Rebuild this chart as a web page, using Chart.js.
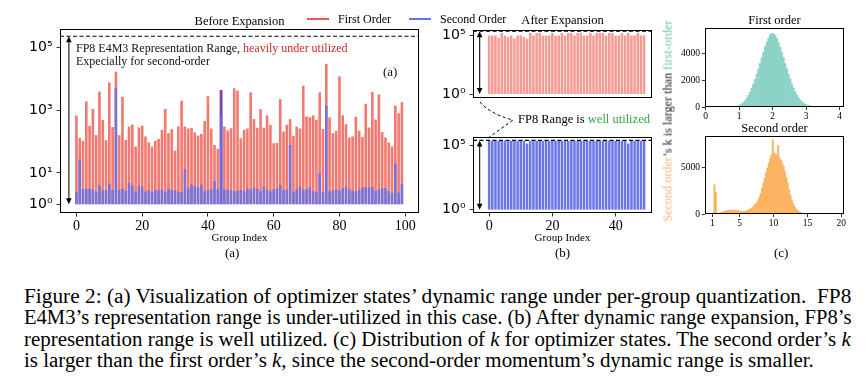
<!DOCTYPE html>
<html>
<head>
<meta charset="utf-8">
<script src="https://cdn.jsdelivr.net/npm/chart.js@4.4.1/dist/chart.umd.min.js"></script>
<style>
  body { margin: 0; background: #fff; width: 865px; height: 384px; position: relative; overflow: hidden;
         font-family: 'Liberation Serif', 'Times New Roman', serif; color: #000; }
  canvas { position: absolute; }
  .txt { position: absolute; white-space: nowrap; line-height: 1; }
  .legLine { position: absolute; height: 2px; }
  #sideLabel { position: absolute; left: 668px; top: 121px; font-size: 12.2px; white-space: nowrap;
               transform: translate(-50%, -50%) rotate(-90deg); color: #222; }
  #caption { position: absolute; left: 24px; top: 286px; width: 827px; font-size: 20px; line-height: 21.4px; }
  #caption div { white-space: nowrap; height: 21.4px; }
  #caption span.line { display: inline-block; transform-origin: 0 50%; }
</style>
</head>
<body>
<canvas id="chartA" width="430" height="250" style="left:0;top:0"></canvas>
<canvas id="chartB1" width="240" height="110" style="left:420px;top:0"></canvas>
<canvas id="chartB2" width="240" height="150" style="left:420px;top:100px"></canvas>
<canvas id="chartC1" width="205" height="125" style="left:660px;top:0"></canvas>
<canvas id="chartC2" width="205" height="125" style="left:660px;top:110px"></canvas>

<!-- shared legend of (a) and (b) -->
<div class="legLine" style="left:307px;top:18px;width:22px;background:#ec584e"></div>
<div class="txt" style="left:338px;top:13px;font-size:12px">First Order</div>
<div class="legLine" style="left:409px;top:18px;width:22px;background:#6473eb"></div>
<div class="txt" style="left:440px;top:13px;font-size:12px">Second Order</div>

<div class="txt" style="left:225px;top:246px;font-size:13px">(a)</div>
<div class="txt" style="left:555px;top:246px;font-size:13px">(b)</div>
<div class="txt" style="left:774px;top:246px;font-size:13px">(c)</div>

<div id="sideLabel"><span style="color:#f6b176">Second order</span>’s k is larger than <span style="color:#72c0b4">first-order</span></div>

<div id="caption">
  <div><span class="line">Figure 2: (a) Visualization of optimizer states’ dynamic range under per-group quantization.&nbsp; FP8</span></div>
  <div><span class="line">E4M3’s representation range is under-utilized in this case. (b) After dynamic range expansion, FP8’s</span></div>
  <div><span class="line">representation range is well utilized. (c) Distribution of <i>k</i> for optimizer states. The second order’s <i>k</i></span></div>
  <div><span class="line last">is larger than the first order’s <i>k</i>, since the second-order momentum’s dynamic range is smaller.</span></div>
</div>

<script>
// ---- data -----------------------------------------------------------------
// (a) max/min ratio per group, before expansion (group 0..99)
const FIRST_ORDER = [
  680, 130, 105, 1900, 320, 1100, 160, 3900, 490, 110,
  7700, 290, 17000, 160, 2700, 112, 300, 350, 69, 280,
  320, 145, 95, 69, 107, 120, 235, 1100, 185, 250,
  51, 300, 2000, 300, 260, 270, 195, 155, 175, 450,
  2800, 260, 78, 58, 4400, 300, 225, 265, 5000, 4200,
  127, 235, 260, 3700, 520, 275, 1080, 275, 680, 340,
  88, 90, 2250, 210, 340, 520, 150, 300, 260, 6000,
  630, 600, 680, 490, 3700, 250, 30000, 590, 185, 220,
  12000, 690, 355, 135, 145, 620, 220, 140, 1600, 280,
  3800, 500, 3200, 200, 135, 93, 70, 1400, 800, 1800
];
const SECOND_ORDER = [
  2.5, 27, 3.1, 3.1, 3.1, 2.9, 2.5, 4, 2.8, 2.8,
  4.6, 2.8, 5100, 2.9, 3.1, 2.7, 4.8, 4, 2.5, 3.8,
  3.6, 2.5, 2.8, 2.5, 2.8, 2.8, 2.9, 2.5, 3.1, 2.9,
  2.8, 2.5, 2.4, 13, 3.2, 4.3, 3.8, 3.5, 4.2, 2.6,
  2.8, 3.0, 5.5, 3.0, 660, 3.0, 2.9, 2.8, 2.6, 2.7,
  2.9, 2.6, 3.2, 2.9, 3.4, 3.1, 2.6, 3.7, 2.9, 2.6,
  3.0, 3.2, 4.2, 2.8, 3.0, 78, 2.5, 3.0, 3.6, 2.8,
  3.0, 3.5, 2.6, 2.4, 10, 2.5, 1380, 2.6, 2.8, 3.0,
  2.7, 3.2, 3.6, 3.0, 2.7, 2.6, 2.9, 3.4, 3.4, 3.5,
  3.5, 2.6, 3.0, 3.2, 3.3, 2.6, 2.3, 20, 2.4, 4.5
];
// overlapping group drawn in purple
const OVERLAP_GROUP = [44];
const OVERLAP_VALUE = [4400];

// (b) after expansion (group 0..49)
const FIRST_ORDER_EXP = [
  1e5, 1e5, 1e5, 63000, 160000, 1e5, 75000, 1e5, 56000, 1e5,
  1e5, 75000, 50000, 160000, 1e5, 160000, 160000, 1e5, 1e5, 1e5,
  160000, 1e5, 1e5, 160000, 1e5, 160000, 160000, 1e5, 160000, 160000,
  1e5, 1e5, 160000, 1e5, 160000, 160000, 160000, 1e5, 160000, 160000,
  1e5, 1e5, 160000, 1e5, 160000, 1e5, 1e5, 160000, 1e5, 1e5
];
const SECOND_ORDER_EXP = [
  214000, 214000, 214000, 214000, 214000, 214000, 214000, 214000, 214000, 214000,
  214000, 214000, 130000, 214000, 214000, 214000, 214000, 214000, 214000, 214000,
  214000, 214000, 214000, 214000, 214000, 214000, 214000, 214000, 214000, 214000,
  214000, 214000, 214000, 214000, 214000, 214000, 214000, 214000, 214000, 214000,
  214000, 214000, 214000, 214000, 130000, 214000, 214000, 214000, 214000, 214000
];

const FP8_RANGE = 229376;          // 448 / 2^-9
const BAR_BASE = 1;
const LOG_TICKS_A = [1, 10, 1000, 100000];
const LOG_TICKS_B = [1, 100000];
const X_TICKS_A = [0, 20, 40, 60, 80, 100];
const X_TICKS_B = [0, 20, 40];

// (c) histograms of k
const K1_BIN_START = 0.9, K1_BIN_WIDTH = 0.05;
const K1_COUNTS = [
  30, 90, 150, 230, 330, 460, 640, 860, 1110, 1400,
  1720, 2060, 2440, 2840, 3250, 3680, 4100, 4500, 4850, 5150,
  5380, 5500, 5480, 5350, 5120, 4820, 4460, 4080, 3680, 3260,
  2850, 2450, 2080, 1730, 1410, 1130, 890, 690, 520, 390,
  290, 210, 150, 105, 70, 45, 25
];
const K2_BIN_START = 1.0, K2_BIN_WIDTH = 0.2;
const K2_COUNTS = [
  150, 3100, 2300, 80, 60, 100, 160, 210, 260, 300,
  340, 380, 400, 420, 410, 420, 400, 410, 380, 340,
  300, 270, 260, 270, 300, 350, 420, 500, 600, 720,
  860, 1020, 1200, 1420, 1750, 2200, 2700, 3250, 3800, 4400,
  4900, 5400, 5900, 6300, 7900, 6500, 6400, 6300, 7300, 6000,
  5700, 5400, 5100, 4500, 3900, 3300, 2600, 2000, 1500, 1100,
  800, 560, 400, 280, 200, 140, 90, 60, 40, 28,
  18, 14, 10, 8, 6, 5, 4, 3
];
const K1_X_TICKS = [0, 1, 2, 3, 4];
const K1_Y_TICKS = [0, 2000, 4000];
const K2_X_TICKS = [1, 5, 10, 15, 20];
const K2_Y_TICKS = [0, 5000];

// ---- styling --------------------------------------------------------------
const SERIF = "'Liberation Serif', 'Times New Roman', serif";
const RED = 'rgba(236, 88, 78, 0.8)';
const RED_LIGHT = 'rgba(236, 88, 78, 0.6)';
const BLUE = 'rgba(100, 115, 235, 0.85)';
const BLUE_DARK = 'rgba(85, 100, 230, 0.88)';
const PURPLE = 'rgba(100, 64, 190, 0.9)';
const TEAL = '#8dd3c7';
const ORANGE = '#fdb462';

Chart.defaults.font.family = SERIF;
Chart.defaults.color = '#000';

const SUP = { '0': '⁰', '1': '¹', '2': '²', '3': '³', '4': '⁴', '5': '⁵' };
const powerLabel = v => '10' + SUP[Math.round(Math.log10(v))];

const fixedTicks = list => (scale => { scale.ticks = list.map(v => ({ value: v })); });

function tickGrid(len) {
  return { display: true, drawOnChartArea: false, drawTicks: true, tickLength: len,
           color: '#000', lineWidth: 0.8, offset: false };
}

// black box round the plot area
const framePlugin = {
  id: 'frame',
  afterDraw(chart) {
    const { ctx, chartArea: a } = chart;
    ctx.save();
    ctx.strokeStyle = '#000';
    ctx.lineWidth = 1;
    ctx.strokeRect(Math.round(a.left) + 0.5, Math.round(a.top) + 0.5,
                   Math.round(a.right - a.left) - 1, Math.round(a.bottom - a.top) - 1);
    ctx.restore();
  }
};

// dashed FP8 limit and the double arrow of the representable range
const rangePlugin = {
  id: 'fp8Range',
  afterDatasetsDraw(chart, args, opts) {
    const { ctx, chartArea: a, scales: { x, y } } = chart;
    const yTop = y.getPixelForValue(opts.top);
    const yLow = y.getPixelForValue(opts.low);
    const xa = x.getPixelForValue(opts.arrowX);
    ctx.save();
    ctx.strokeStyle = '#000';
    ctx.lineWidth = 1.1;
    ctx.setLineDash([4, 2.5]);
    ctx.beginPath();
    ctx.moveTo(a.left, yTop);
    ctx.lineTo(a.right, yTop);
    ctx.stroke();
    ctx.setLineDash([]);
    ctx.strokeStyle = '#222';
    ctx.lineWidth = 1.2;
    ctx.beginPath();
    ctx.moveTo(xa, yLow - 4);
    ctx.lineTo(xa, yTop + 4);
    ctx.stroke();
    ctx.fillStyle = '#000';
    ctx.beginPath();
    ctx.moveTo(xa, yTop); ctx.lineTo(xa - 2.8, yTop + 6); ctx.lineTo(xa + 2.8, yTop + 6);
    ctx.fill();
    ctx.beginPath();
    ctx.moveTo(xa, yLow); ctx.lineTo(xa - 2.8, yLow - 6); ctx.lineTo(xa + 2.8, yLow - 6);
    ctx.fill();
    ctx.restore();
  }
};

// text inside panel (a)
const noteAPlugin = {
  id: 'noteA',
  afterDraw(chart) {
    const { ctx, chartArea: a } = chart;
    ctx.save();
    ctx.font = "12px " + SERIF;
    ctx.textBaseline = 'middle';
    const head = 'FP8 E4M3 Representation Range, ';
    const x0 = a.left + 16;
    ctx.fillStyle = '#111';
    ctx.fillText(head, x0, a.top + 20);
    ctx.fillStyle = '#c8282b';
    ctx.fillText('heavily under utilized', x0 + ctx.measureText(head).width, a.top + 20);
    ctx.fillStyle = '#111';
    ctx.fillText('Expecially for second-order', x0, a.top + 32.5);
    ctx.font = "13px " + SERIF;
    ctx.fillText('(a)', a.right - 36, a.top + 44);
    ctx.restore();
  }
};

// dashed connector between both (b) panels
const noteBPlugin = {
  id: 'noteB',
  afterDraw(chart) {
    const { ctx } = chart;
    const vx = 93, vy = 20;
    ctx.save();
    ctx.strokeStyle = '#000';
    ctx.lineWidth = 1;
    ctx.setLineDash([3, 2.5]);
    ctx.beginPath();
    ctx.moveTo(60, 2);
    ctx.quadraticCurveTo(70, 14, vx, vy);
    ctx.lineTo(68, 38);
    ctx.stroke();
    ctx.restore();
    ctx.save();
    ctx.font = "12.5px " + SERIF;
    ctx.textBaseline = 'middle';
    const head = 'FP8 Range is ';
    ctx.fillStyle = '#000';
    ctx.fillText(head, 98, vy);
    ctx.fillStyle = '#35a845';
    ctx.fillText('well utilized', 98 + ctx.measureText(head).width, vy);
    ctx.restore();
  }
};

function groupData(values) {
  return values.map((v, i) => ({ x: i, y: [BAR_BASE, v] }));
}
function histData(start, width, counts) {
  return counts.map((c, i) => ({ x: start + (i + 0.5) * width, y: c }));
}

function baseOptions(title, titlePad, padding) {
  return {
    responsive: false,
    animation: false,
    events: [],
    layout: { padding },
    plugins: {
      legend: { display: false },
      tooltip: { enabled: false },
      title: {
        display: !!title, text: title, fullSize: false, color: '#000',
        font: { family: SERIF, size: 12.5, weight: 'normal', lineHeight: 1.2 },
        padding: titlePad
      }
    }
  };
}

// ---- (a) before expansion --------------------------------------------------
const optA = baseOptions('Before Expansion', { top: 14, bottom: 0 }, { top: 0, right: 11, bottom: 0, left: 0 });
optA.plugins.fp8Range = { top: FP8_RANGE, low: BAR_BASE, arrowX: -2.3 };
optA.scales = {
  x: {
    type: 'linear', min: -5, max: 104.2, offset: false, bounds: 'data',
    afterBuildTicks: fixedTicks(X_TICKS_A),
    afterFit: s => { s.height = 37; },
    grid: tickGrid(3.5), border: { display: false },
    ticks: { font: { family: SERIF, size: 14 }, color: '#000', padding: 1, maxRotation: 0 },
    title: { display: true, text: 'Group Index', color: '#000',
             font: { family: SERIF, size: 11 }, padding: { top: 0, bottom: 5 } }
  },
  y: {
    type: 'logarithmic', min: 0.525, max: 389000, bounds: 'data',
    afterBuildTicks: fixedTicks(LOG_TICKS_A),
    afterFit: s => { s.width = 60; },
    grid: tickGrid(3.5), border: { display: false },
    ticks: { callback: v => powerLabel(v), font: { family: 'DejaVu Sans', size: 14 }, color: '#000', padding: 4 }
  }
};
new Chart(document.getElementById('chartA'), {
  type: 'bar',
  data: {
    datasets: [
      { label: 'Second Order', data: groupData(SECOND_ORDER), backgroundColor: BLUE,
        grouped: false, order: 1, barPercentage: 0.8, categoryPercentage: 1 },
      { label: 'Overlap', data: OVERLAP_GROUP.map((g, i) => ({ x: g, y: [BAR_BASE, OVERLAP_VALUE[i]] })),
        backgroundColor: PURPLE, grouped: false, order: 2, barPercentage: 0.8, categoryPercentage: 1 },
      { label: 'First Order', data: groupData(FIRST_ORDER), backgroundColor: RED,
        grouped: false, order: 3, barPercentage: 0.8, categoryPercentage: 1 }
    ]
  },
  options: optA,
  plugins: [framePlugin, rangePlugin, noteAPlugin]
});

// ---- (b) after expansion, first order ----------------------------------------
const optB1 = baseOptions('After Expansion', { top: 13, bottom: 2 }, { top: 0, right: 8, bottom: 4, left: 0 });
optB1.plugins.fp8Range = { top: FP8_RANGE, low: BAR_BASE, arrowX: -3 };
optB1.scales = {
  x: { type: 'linear', display: false, min: -5.1, max: 51.5, offset: false, bounds: 'data' },
  y: {
    type: 'logarithmic', min: 0.5, max: 295000, bounds: 'data',
    afterBuildTicks: fixedTicks(LOG_TICKS_B),
    afterFit: s => { s.width = 53; },
    grid: tickGrid(3.5), border: { display: false },
    ticks: { callback: v => powerLabel(v), font: { family: 'DejaVu Sans', size: 14 }, color: '#000', padding: 4 }
  }
};
new Chart(document.getElementById('chartB1'), {
  type: 'bar',
  data: {
    datasets: [
      { label: 'First Order', data: groupData(FIRST_ORDER_EXP), backgroundColor: RED_LIGHT,
        barPercentage: 0.8, categoryPercentage: 1 }
    ]
  },
  options: optB1,
  plugins: [framePlugin, rangePlugin]
});

// ---- (b) after expansion, second order ---------------------------------------
const optB2 = baseOptions('', { top: 0, bottom: 0 }, { top: 37, right: 8, bottom: 0, left: 0 });
optB2.plugins.fp8Range = { top: FP8_RANGE, low: BAR_BASE, arrowX: -3 };
optB2.scales = {
  x: {
    type: 'linear', min: -5.1, max: 51.5, offset: false, bounds: 'data',
    afterBuildTicks: fixedTicks(X_TICKS_B),
    afterFit: s => { s.height = 37; },
    grid: tickGrid(3.5), border: { display: false },
    ticks: { font: { family: SERIF, size: 14 }, color: '#000', padding: 1, maxRotation: 0 },
    title: { display: true, text: 'Group Index', color: '#000',
             font: { family: SERIF, size: 11 }, padding: { top: 0, bottom: 5 } }
  },
  y: {
    type: 'logarithmic', min: 0.55, max: 420000, bounds: 'data',
    afterBuildTicks: fixedTicks(LOG_TICKS_B),
    afterFit: s => { s.width = 53; },
    grid: tickGrid(3.5), border: { display: false },
    ticks: { callback: v => powerLabel(v), font: { family: 'DejaVu Sans', size: 14 }, color: '#000', padding: 4 }
  }
};
new Chart(document.getElementById('chartB2'), {
  type: 'bar',
  data: {
    datasets: [
      { label: 'Second Order', data: groupData(SECOND_ORDER_EXP), backgroundColor: BLUE_DARK,
        barPercentage: 0.8, categoryPercentage: 1 }
    ]
  },
  options: optB2,
  plugins: [framePlugin, rangePlugin, noteBPlugin]
});

// ---- (c) distribution of k -----------------------------------------------------
function histOptions(title, titlePad, xMax, xTicks, yMax, yTicks, xHeight) {
  const o = baseOptions(title, titlePad, { top: 0, right: 21, bottom: 0, left: 0 });
  o.scales = {
    x: {
      type: 'linear', min: -0.02 * xMax / 4, max: xMax, offset: false, bounds: 'data',
      afterBuildTicks: fixedTicks(xTicks),
      afterFit: s => { s.height = xHeight; },
      grid: tickGrid(3), border: { display: false },
      ticks: { font: { family: SERIF, size: 9.5 }, color: '#000', padding: 1, maxRotation: 0,
               callback: v => String(v) }
    },
    y: {
      type: 'linear', min: 0, max: yMax, bounds: 'data',
      afterBuildTicks: fixedTicks(yTicks),
      afterFit: s => { s.width = 45; },
      grid: tickGrid(3), border: { display: false },
      ticks: { font: { family: SERIF, size: 9.5 }, color: '#000', padding: 2,
               callback: v => String(v) }
    }
  };
  return o;
}

new Chart(document.getElementById('chartC1'), {
  type: 'bar',
  data: {
    datasets: [
      { label: 'First order', data: histData(K1_BIN_START, K1_BIN_WIDTH, K1_COUNTS),
        backgroundColor: TEAL, barPercentage: 1, categoryPercentage: 1 }
    ]
  },
  options: histOptions('First order', { top: 13, bottom: 0 }, 4.13, K1_X_TICKS, 5900, K1_Y_TICKS, 18),
  plugins: [framePlugin]
});

new Chart(document.getElementById('chartC2'), {
  type: 'bar',
  data: {
    datasets: [
      { label: 'Second order', data: histData(K2_BIN_START, K2_BIN_WIDTH, K2_COUNTS),
        backgroundColor: ORANGE, barPercentage: 1, categoryPercentage: 1 }
    ]
  },
  options: histOptions('Second order', { top: 11, bottom: 0 }, 20.4, K2_X_TICKS, 8300, K2_Y_TICKS, 21),
  plugins: [framePlugin]
});

// ---- caption: stretch each full line to the column width ------------------------
const CAPTION_WIDTH = 827;
const lines = Array.from(document.querySelectorAll('#caption span.line'));
const scales = lines.filter(l => !l.classList.contains('last')).map(l => CAPTION_WIDTH / l.offsetWidth);
const meanScale = scales.reduce((s, v) => s + v, 0) / scales.length;
lines.forEach((l, i) => {
  const k = l.classList.contains('last') ? meanScale : scales[i];
  l.style.transform = 'scaleX(' + k + ')';
});
</script>
</body>
</html>
